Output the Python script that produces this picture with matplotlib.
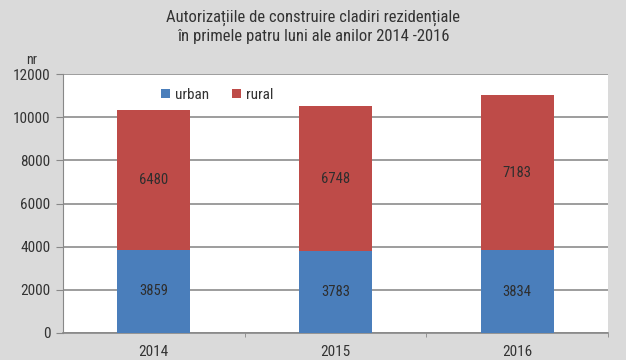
import matplotlib.pyplot as plt
import numpy as np

# date extrase din grafic
years = ['2014', '2015', '2016']
urban = [3859, 3783, 3834]
rural = [6480, 6748, 7183]
y_ticks = [0, 2000, 4000, 6000, 8000, 10000, 12000]

plt.rcParams['font.family'] = ['Roboto Condensed', 'DejaVu Sans']
plt.rcParams['font.stretch'] = 'condensed'

fig = plt.figure(figsize=(6.26, 3.6), dpi=100, facecolor='#dadada')
ax = fig.add_axes([63 / 626, 1 - 333 / 360, 545 / 626, 259 / 360])
ax.set_facecolor('white')

x = np.arange(len(years))
ax.bar(x, urban, width=0.4, color='#4a7ebb', label='urban', zorder=3)
ax.bar(x, rural, width=0.4, bottom=urban, color='#be4b48', label='rural', zorder=3)

for i in range(len(years)):
    ax.text(x[i], urban[i] / 2, str(urban[i]), ha='center', va='center',
            fontsize=10.5, color='#2e2e2e', zorder=4)
    ax.text(x[i], urban[i] + rural[i] / 2, str(rural[i]), ha='center', va='center',
            fontsize=10.5, color='#2e2e2e', zorder=4)

ax.set_xlim(-0.5, 2.5)
ax.set_ylim(0, 12000)
ax.set_yticks(y_ticks)
ax.set_yticklabels([str(v) for v in y_ticks], fontsize=11, color='#333333')
ax.set_xticks(x)
ax.set_xticklabels(years, fontsize=11, color='#333333')
ax.set_xticks([0.5, 1.5, 2.5], minor=True)
ax.tick_params(axis='x', which='major', length=0, pad=9)
ax.tick_params(axis='x', which='minor', length=3, color='#888888')
ax.tick_params(axis='y', length=5, color='#888888', pad=4)
ax.grid(axis='y', color='#8c8c8c', linewidth=1.2, zorder=1)
for s in ['top', 'right']:
    ax.spines[s].set_visible(False)
ax.spines['left'].set_color('#888888')
ax.spines['bottom'].set_color('#888888')
ax.spines['bottom'].set_linewidth(1.2)

ax.legend(loc='upper left', bbox_to_anchor=(0.155, 1.0), ncol=2, frameon=False,
          fontsize=11, handlelength=0.6, handleheight=0.6, columnspacing=1.5,
          handletextpad=0.3, labelcolor='#333333')

fig.text(26 / 626, 1 - 60 / 360, 'nr', fontsize=10, color='#333333', va='center')
fig.text(0.5, 1 - 27 / 360,
         'Autorizațiile de construire cladiri rezidențiale\nîn primele patru luni ale anilor 2014 -2016',
         ha='center', va='center', fontsize=12, color='#333333', linespacing=1.25)

fig.savefig('out.png', dpi=100, facecolor=fig.get_facecolor())
